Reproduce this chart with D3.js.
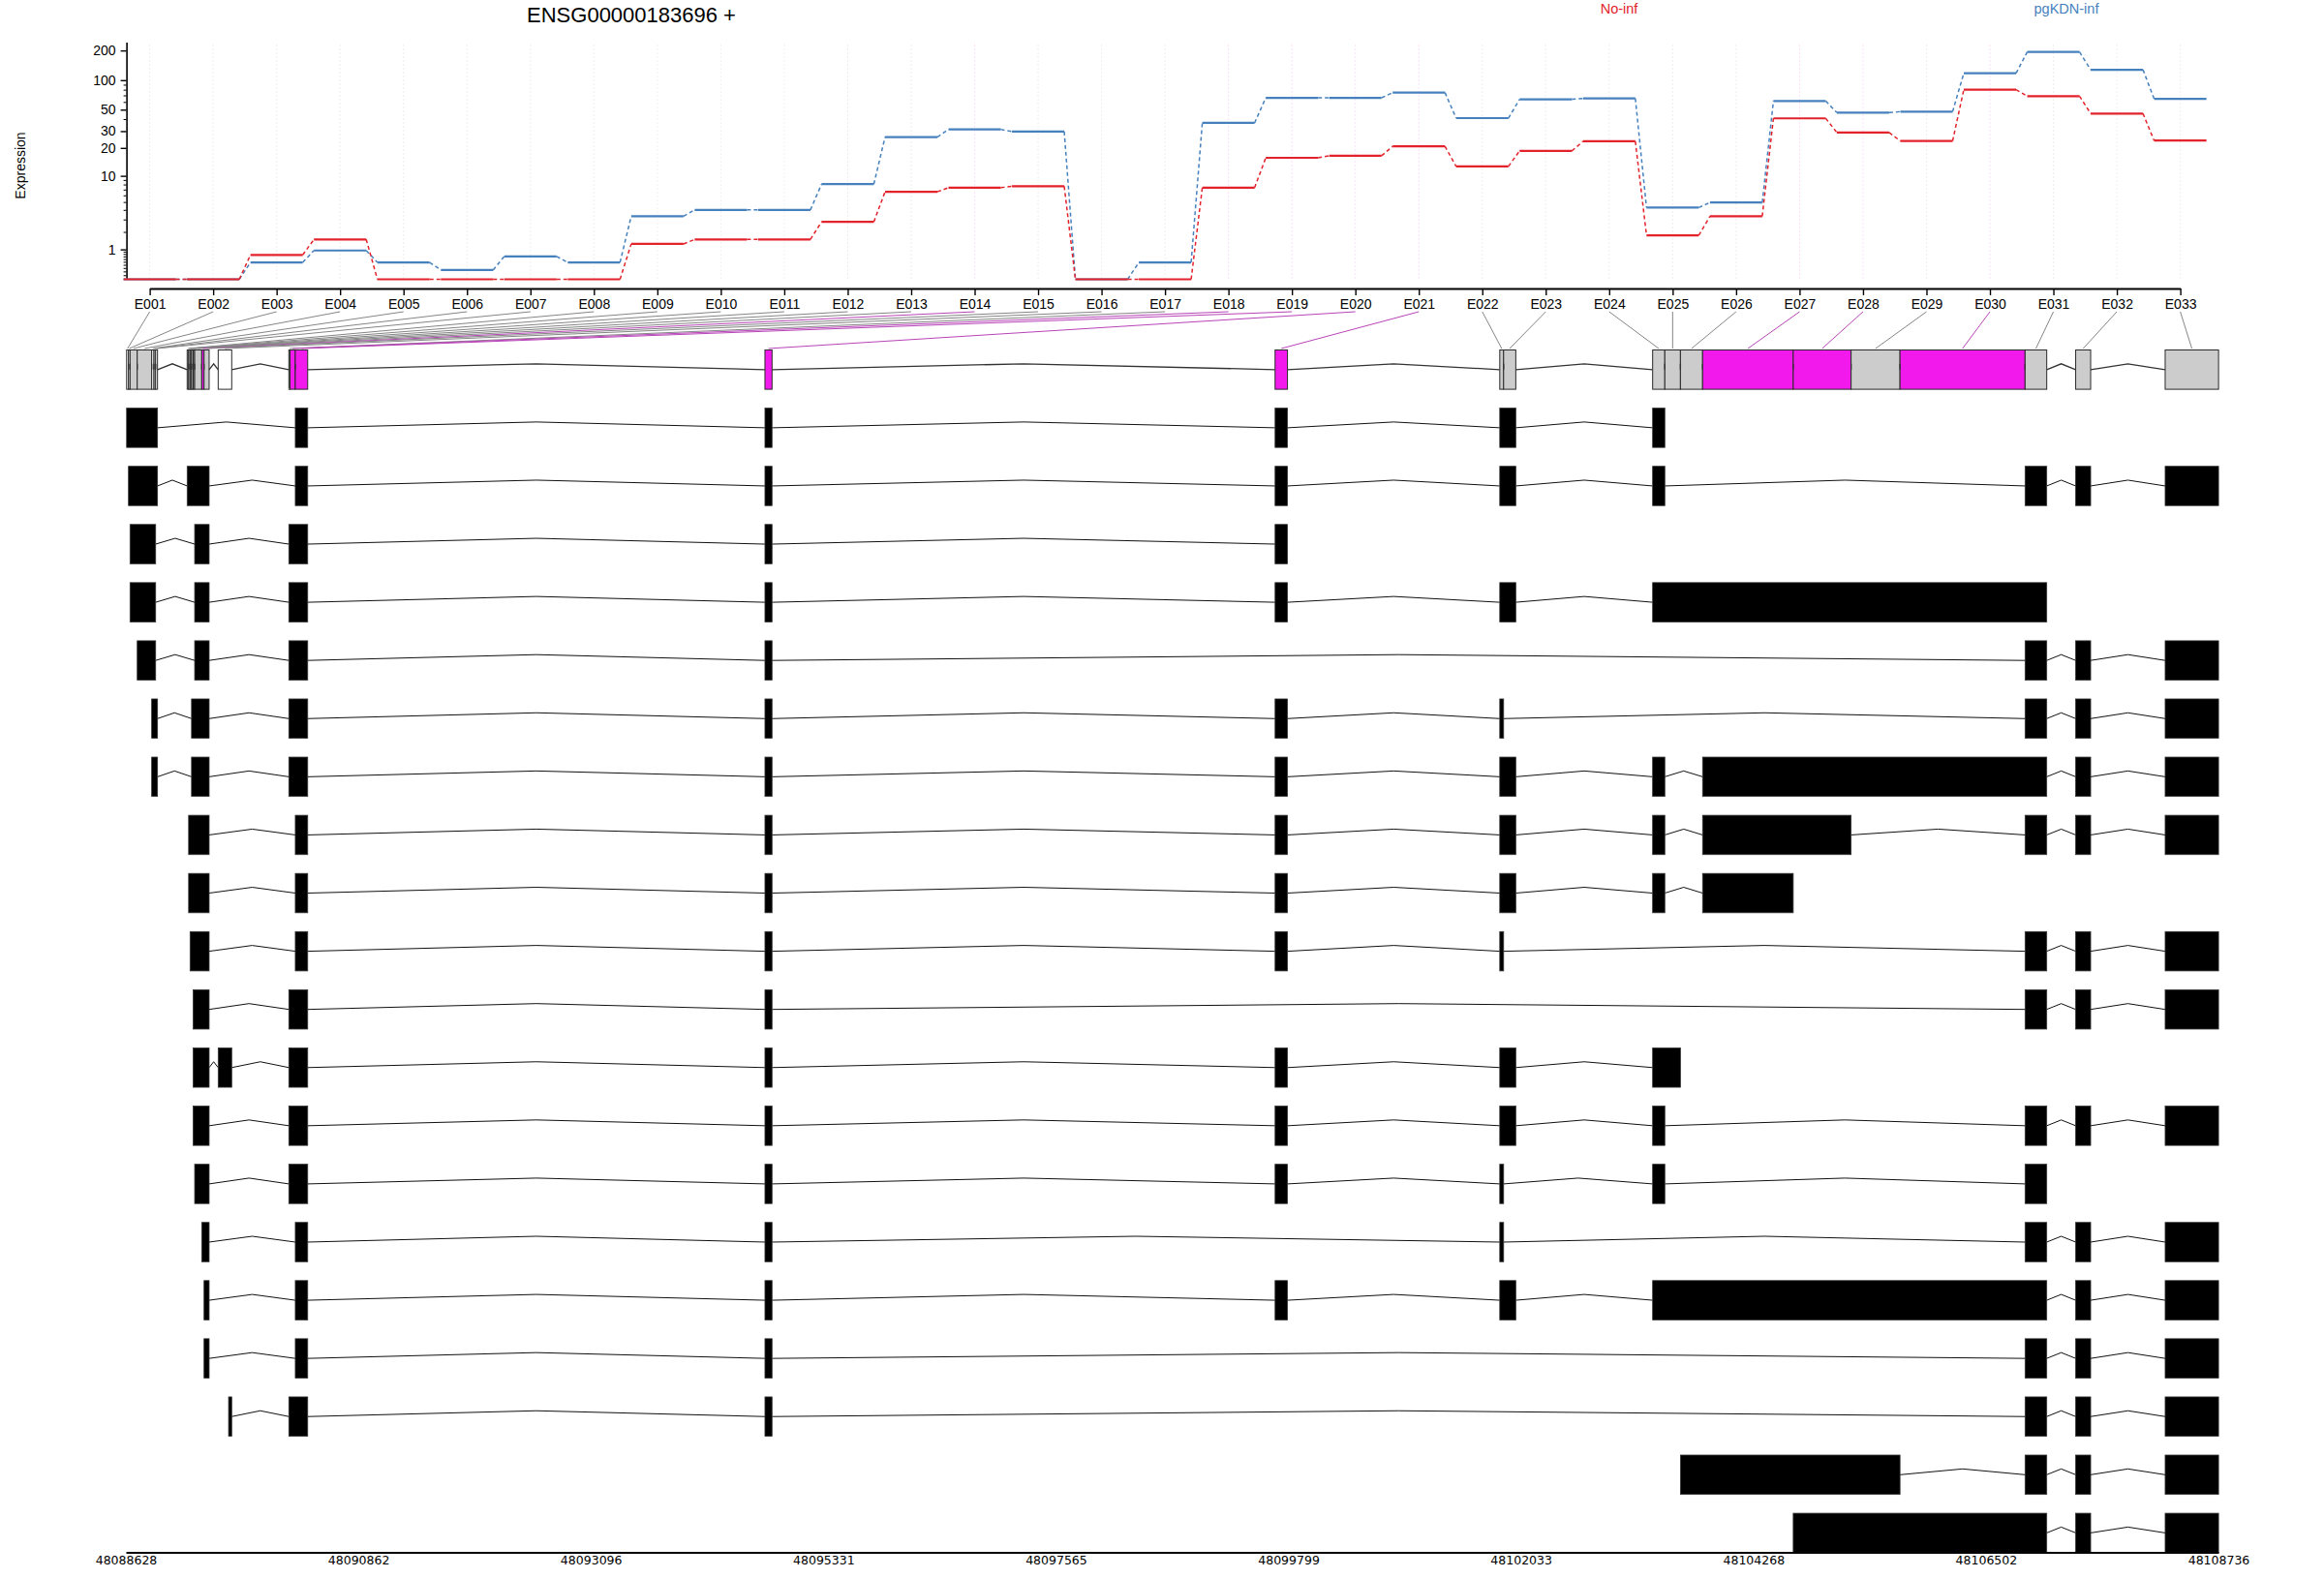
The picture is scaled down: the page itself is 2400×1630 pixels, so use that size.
<!DOCTYPE html>
<html><head><meta charset="utf-8">
<script src="https://cdn.jsdelivr.net/npm/d3@7"></script>
<style>body{margin:0;background:#fff}svg{display:block}</style>
</head><body>
<svg id="c" width="2400" height="1630"></svg>
<script>
// ---------------- DATA ----------------
const geneName = "ENSG00000183696 +";
const conditions = ["No-inf", "pgKDN-inf"];
const exonIds = ["E001","E002","E003","E004","E005","E006","E007","E008","E009","E010","E011",
  "E012","E013","E014","E015","E016","E017","E018","E019","E020","E021","E022","E023","E024",
  "E025","E026","E027","E028","E029","E030","E031","E032","E033"];
const noInf = [0, 0, 0.76, 1.52, 0, 0, 0, 0, 1.27, 1.52, 1.52, 2.79, 6.59, 7.36, 7.63, 0, 0,
  7.36, 15.7, 16.5, 20.8, 12.7, 18.6, 23.5, 1.77, 3.31, 40.7, 29.0, 23.7, 80.1, 68.7, 45.6, 23.9];
const pgKDN = [0, 0, 0.48, 0.95, 0.48, 0.24, 0.70, 0.48, 3.31, 3.99, 3.99, 8.08, 26.0, 31.3, 29.7, 0, 0.48,
  36.5, 66.1, 66.1, 74.7, 40.9, 63.8, 65.2, 4.27, 4.93, 61.3, 46.6, 47.7, 117.6, 193, 127.5, 64.6];
const exonStart = [48088635, 48088653, 48088668, 48088737, 48088876, 48088898, 48088914,
  48089217, 48089231, 48089245, 48089259, 48089274, 48089289, 48089357, 48089379, 48089515,
  48090194, 48090205, 48090256, 48094769, 48099671, 48101830, 48101867, 48103299, 48103416,
  48103566, 48103779, 48104650, 48105206, 48105676, 48106878, 48107364, 48108224];
const exonEnd = [48088653, 48088668, 48088737, 48088876, 48088898, 48088914, 48088932,
  48089231, 48089245, 48089259, 48089274, 48089289, 48089357, 48089379, 48089428, 48089645,
  48090205, 48090256, 48090375, 48094837, 48099790, 48101867, 48101984, 48103416, 48103566,
  48103779, 48104650, 48105206, 48105676, 48106878, 48107086, 48107508, 48108737];
// 0 = not tested, 1 = tested, 2 = significant
const exonStatus = [0,0,1,1,0,1,0,1,1,1,1,1,1,2,1,0,1,2,2,2,2,1,1,1,1,1,2,2,1,2,1,1,1];
const transcripts = [
  [[48088635,48088932],[48090256,48090375],[48094769,48094837],[48099671,48099790],[48101830,48101984],[48103299,48103416]],
  [[48088653,48088932],[48089217,48089428],[48090256,48090375],[48094769,48094837],[48099671,48099790],[48101830,48101984],[48103299,48103416],[48106878,48107086],[48107364,48107508],[48108224,48108737]],
  [[48088668,48088914],[48089289,48089428],[48090194,48090375],[48094769,48094837],[48099671,48099790]],
  [[48088668,48088914],[48089289,48089428],[48090194,48090375],[48094769,48094837],[48099671,48099790],[48101830,48101984],[48103299,48107086]],
  [[48088737,48088914],[48089289,48089428],[48090194,48090375],[48094769,48094837],[48106878,48107086],[48107364,48107508],[48108224,48108737]],
  [[48088876,48088932],[48089259,48089428],[48090194,48090375],[48094769,48094837],[48099671,48099790],[48101830,48101867],[48106878,48107086],[48107364,48107508],[48108224,48108737]],
  [[48088876,48088932],[48089259,48089428],[48090194,48090375],[48094769,48094837],[48099671,48099790],[48101830,48101984],[48103299,48103416],[48103779,48107086],[48107364,48107508],[48108224,48108737]],
  [[48089231,48089428],[48090256,48090375],[48094769,48094837],[48099671,48099790],[48101830,48101984],[48103299,48103416],[48103779,48105206],[48106878,48107086],[48107364,48107508],[48108224,48108737]],
  [[48089231,48089428],[48090256,48090375],[48094769,48094837],[48099671,48099790],[48101830,48101984],[48103299,48103416],[48103779,48104650]],
  [[48089245,48089428],[48090256,48090375],[48094769,48094837],[48099671,48099790],[48101830,48101867],[48106878,48107086],[48107364,48107508],[48108224,48108737]],
  [[48089274,48089428],[48090194,48090375],[48094769,48094837],[48106878,48107086],[48107364,48107508],[48108224,48108737]],
  [[48089274,48089428],[48089515,48089645],[48090194,48090375],[48094769,48094837],[48099671,48099790],[48101830,48101984],[48103299,48103566]],
  [[48089274,48089428],[48090194,48090375],[48094769,48094837],[48099671,48099790],[48101830,48101984],[48103299,48103416],[48106878,48107086],[48107364,48107508],[48108224,48108737]],
  [[48089289,48089428],[48090194,48090375],[48094769,48094837],[48099671,48099790],[48101830,48101867],[48103299,48103416],[48106878,48107086]],
  [[48089357,48089428],[48090256,48090375],[48094769,48094837],[48101830,48101867],[48106878,48107086],[48107364,48107508],[48108224,48108737]],
  [[48089379,48089428],[48090256,48090375],[48094769,48094837],[48099671,48099790],[48101830,48101984],[48103299,48107086],[48107364,48107508],[48108224,48108737]],
  [[48089379,48089428],[48090256,48090375],[48094769,48094837],[48106878,48107086],[48107364,48107508],[48108224,48108737]],
  [[48089615,48089645],[48090194,48090375],[48094769,48094837],[48106878,48107086],[48107364,48107508],[48108224,48108737]],
  [[48103566,48105676],[48106878,48107086],[48107364,48107508],[48108224,48108737]],
  [[48104650,48107086],[48107364,48107508],[48108224,48108737]]
];
const yTicks = [1, 10, 20, 30, 50, 100, 200];
const yMinorTicks = [0.1,0.2,0.3,0.4,0.5,0.6,0.7,0.8,0.9,2,3,4,5,6,7,8,9,40,60,70,80,90];
const genomeTicks = [48088628,48090862,48093096,48095331,48097565,48099799,48102033,48104268,48106502,48108736];

// ---------------- STYLE ----------------
const condColors = ["#E3232B", "#4681BD"];
const statusFill = ["#FFFFFF", "#CCCCCC", "#F219ED"];
const FONT = "'Liberation Sans', Arial, sans-serif";

const svg = d3.select("#c");

// ---------------- SCALES ----------------
const x = d3.scalePoint().domain(exonIds).range([154.6, 2251.6]);
const y = d3.scaleSymlog().constant(1).domain([0, 243]).range([288.5, 43.5]);
const gx = d3.scaleLinear().domain([genomeTicks[0], genomeTicks[genomeTicks.length-1]]).range([130, 2291]);
const rowY = d3.scalePoint().domain(d3.range(transcripts.length + 1)).range([381.8, 1583.4]);
const BOXH = 40.6, PEAK = 6, HALF = 27;

// ---------------- TITLE & LEGEND ----------------
svg.append("text").attr("x", 652).attr("y", 23).attr("text-anchor", "middle")
  .style("font-family", FONT).style("font-size", "22px").text(geneName);
const legendX = [1672, 2134];
conditions.forEach((c, i) => {
  svg.append("text").attr("x", legendX[i]).attr("y", 14).attr("text-anchor", "middle")
    .style("font-family", FONT).style("font-size", "14.5px").attr("fill", condColors[i]).text(c);
});

// ---------------- EXPRESSION PANEL ----------------
const gExpr = svg.append("g");
// grid
gExpr.selectAll("line.grid").data(exonIds).join("line")
  .attr("x1", d => x(d)).attr("x2", d => x(d)).attr("y1", 46).attr("y2", 290)
  .attr("stroke", (d, i) => exonStatus[i] === 2 ? "#FBE0FA" : "#EFEFEF")
  .attr("stroke-width", 1).attr("stroke-dasharray", "2,2");

// y axis
const yAxis = gExpr.append("g").attr("transform", "translate(130.6,0)")
  .call(d3.axisLeft(y).tickValues(yTicks).tickSize(6).tickSizeOuter(0).tickPadding(5).tickFormat(d3.format("d")));
yAxis.select(".domain").attr("stroke-width", 1.6);
yAxis.selectAll(".tick line").attr("stroke-width", 1.4);
yAxis.selectAll("text").style("font-family", FONT).style("font-size", "14px");
const yMinor = gExpr.append("g").attr("transform", "translate(130.6,0)")
  .call(d3.axisLeft(y).tickValues(yMinorTicks).tickSize(3).tickSizeOuter(0).tickFormat(""));
yMinor.select(".domain").remove();
yMinor.selectAll(".tick line").attr("stroke-width", 1);

svg.append("text").attr("transform", "translate(26,171) rotate(-90)").attr("text-anchor", "middle")
  .style("font-family", FONT).style("font-size", "14px").text("Expression");

// expression lines (blue first, red on top)
[pgKDN, noInf].forEach((vals, k) => {
  const col = k === 0 ? condColors[1] : condColors[0];
  const g = gExpr.append("g");
  g.selectAll("line.seg").data(vals).join("line")
    .attr("x1", (v, i) => x(exonIds[i]) - HALF).attr("x2", (v, i) => x(exonIds[i]) + HALF)
    .attr("y1", v => y(v)).attr("y2", v => y(v))
    .attr("stroke", col).attr("stroke-width", 2.2);
  g.selectAll("line.con").data(vals.slice(0, -1)).join("line")
    .attr("x1", (v, i) => x(exonIds[i]) + HALF).attr("x2", (v, i) => x(exonIds[i + 1]) - HALF)
    .attr("y1", v => y(v)).attr("y2", (v, i) => y(vals[i + 1]))
    .attr("stroke", col).attr("stroke-width", 1.5).attr("stroke-dasharray", "4,3");
});

// exon axis
const xAxis = svg.append("g").attr("transform", "translate(0,298)")
  .call(d3.axisBottom(x).tickSize(7).tickSizeOuter(0).tickPadding(4));
xAxis.select(".domain").attr("stroke-width", 2);
xAxis.selectAll(".tick line").attr("stroke-width", 1.4);
xAxis.selectAll("text").style("font-family", FONT).style("font-size", "14px");

// ---------------- GENE MODEL ----------------
const cy0 = rowY(0);
// label -> exon lines
svg.append("g").selectAll("line").data(exonIds).join("line")
  .attr("x1", d => x(d)).attr("y1", 322)
  .attr("x2", (d, i) => (gx(exonStart[i]) + gx(exonEnd[i])) / 2).attr("y2", cy0 - BOXH / 2 - 1.5)
  .attr("stroke", (d, i) => exonStatus[i] === 2 ? "#B844B8" : "#858585").attr("stroke-width", 1);

const gModel = svg.append("g");
gModel.selectAll("rect").data(exonIds).join("rect")
  .attr("x", (d, i) => gx(exonStart[i])).attr("width", (d, i) => gx(exonEnd[i]) - gx(exonStart[i]))
  .attr("y", cy0 - BOXH / 2).attr("height", BOXH)
  .attr("fill", (d, i) => statusFill[exonStatus[i]]).attr("stroke", "#2a2a2a").attr("stroke-width", 1);
const modelIntrons = d3.range(exonIds.length - 1).map(i => [exonEnd[i], exonStart[i + 1]]);
gModel.selectAll("polyline").data(modelIntrons).join("polyline")
  .attr("points", d => {
    const a = gx(d[0]), b = gx(d[1]);
    return `${a},${cy0} ${(a + b) / 2},${cy0 - PEAK} ${b},${cy0}`;
  })
  .attr("fill", "none").attr("stroke", "#333").attr("stroke-width", 1.3);

// ---------------- TRANSCRIPTS ----------------
transcripts.forEach((tr, t) => {
  const cy = rowY(t + 1);
  const g = svg.append("g");
  const introns = d3.range(tr.length - 1).map(i => [tr[i][1], tr[i + 1][0]]);
  g.selectAll("polyline").data(introns).join("polyline")
    .attr("points", d => {
      const a = gx(d[0]), b = gx(d[1]);
      return `${a},${cy} ${(a + b) / 2},${cy - PEAK} ${b},${cy}`;
    })
    .attr("fill", "none").attr("stroke", "#111").attr("stroke-width", 1);
  g.selectAll("rect").data(tr).join("rect")
    .attr("x", d => gx(d[0])).attr("width", d => Math.max(gx(d[1]) - gx(d[0]), 1.5))
    .attr("y", cy - BOXH / 2).attr("height", BOXH)
    .attr("fill", "#000").attr("stroke", "#333").attr("stroke-width", 0.8);
});

// ---------------- GENOMIC AXIS ----------------
const gAxis = svg.append("g").attr("transform", "translate(0,1603.5)")
  .call(d3.axisBottom(gx).tickValues(genomeTicks).tickSize(0).tickSizeOuter(0).tickPadding(4).tickFormat(d3.format("d")));
gAxis.select(".domain").attr("stroke-width", 2);
gAxis.selectAll("text").style("font-family", "'DejaVu Sans', sans-serif").style("font-size", "12.5px");
</script>
</body></html>
